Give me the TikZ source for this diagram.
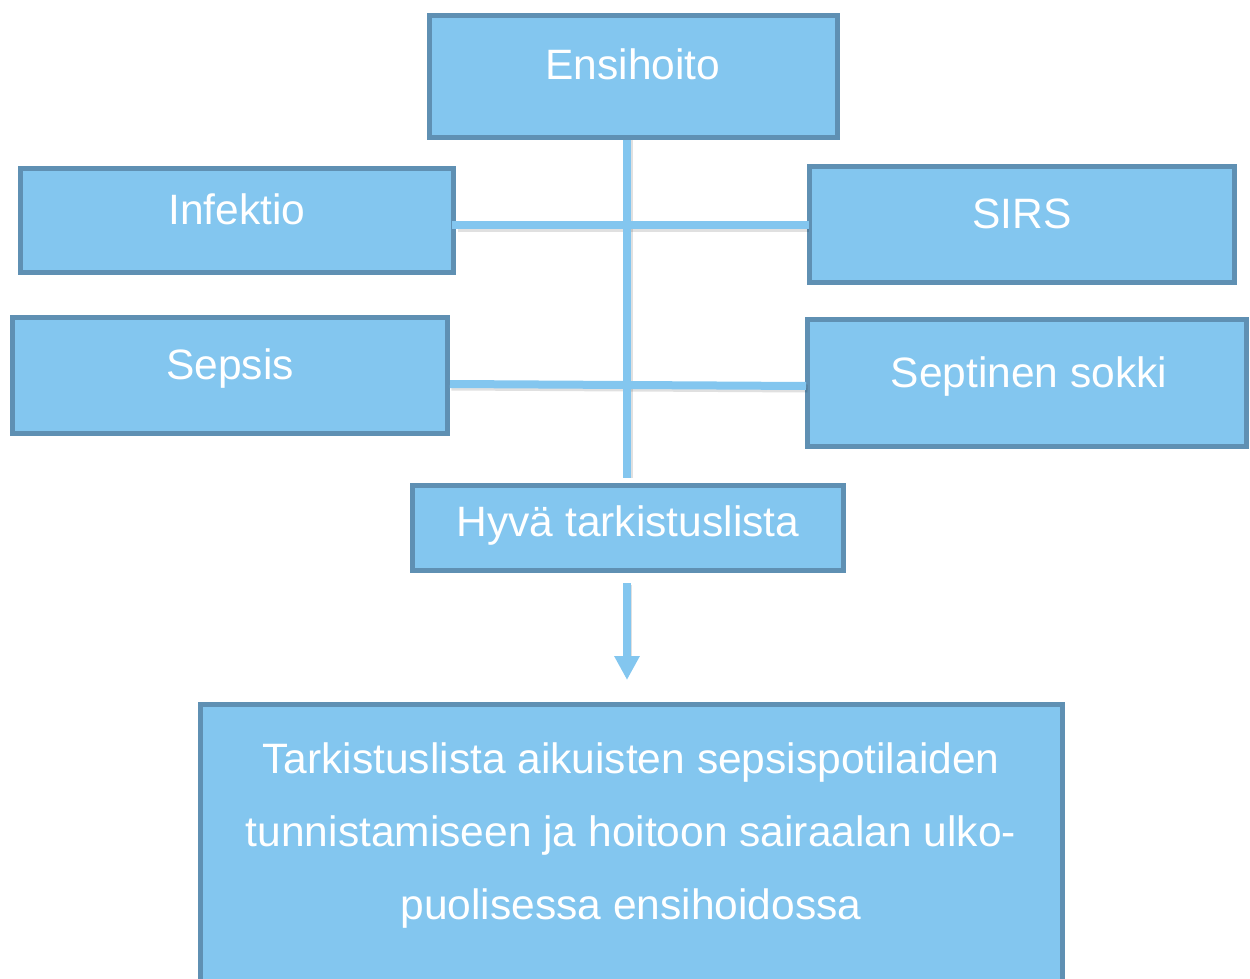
\documentclass[tikz,border=0pt]{standalone}
\usepackage{fontspec}
\setmainfont{Liberation Sans}
\usetikzlibrary{arrows.meta}
\definecolor{boxfill}{HTML}{83C6EF}
\definecolor{boxedge}{HTML}{5F90B3}
\definecolor{linkc}{HTML}{83C6EF}
\begin{document}
\begin{tikzpicture}[x=1pt,y=1pt,
  box/.style={draw=boxedge, fill=boxfill, line width=5pt, rectangle, inner sep=0pt},
  lbl/.style={text=white, font=\fontsize{42.5}{73}\selectfont, anchor=base, inner sep=0pt, align=center},
  link/.style={draw=linkc, line width=8pt},
  shade/.style={draw=black, opacity=0.12, line width=8pt}]
\useasboundingbox (0,0) rectangle (1250,-979);
% boxes
\node[box, minimum width=408pt, minimum height=122pt] (ens) at (633.5,-76.5) {};
\node[box, minimum width=433pt, minimum height=104pt] (inf) at (237,-220.5) {};
\node[box, minimum width=425pt, minimum height=116pt] (sirs) at (1022,-224.5) {};
\node[box, minimum width=435pt, minimum height=116pt] (sep) at (230,-375.5) {};
\node[box, minimum width=439pt, minimum height=127pt] (sok) at (1027,-383) {};
\node[box, minimum width=431pt, minimum height=85pt] (hyv) at (628,-528) {};
\node[box, minimum width=862pt, minimum height=293pt] (tar) at (631.5,-851) {};
% labels
\node[lbl] (tens) at (633,-80) {Ensihoito};
\node[lbl] (tinf) at (237,-224) {Infektio};
\node[lbl] (tsirs) at (1022,-228) {SIRS};
\node[lbl] (tsep) at (230,-379) {Sepsis};
\node[lbl] (tsok) at (1029,-387) {Septinen sokki};
\node[lbl] (thyv) at (628,-536) {Hyvä tarkistuslista};
\node[lbl, anchor=north] (ttar) at (631,-742) {Tarkistuslista aikuisten sepsispotilaiden\\tunnistamiseen ja hoitoon sairaalan ulko-\\puolisessa ensihoidossa};
% junction coordinates
\coordinate (vtop) at (627,-140);
\coordinate (vbot) at (627,-478);
\coordinate (j1) at (627,-225);
\coordinate (j2l) at (450,-384);
\coordinate (j2r) at (806,-386);
\coordinate (a1) at (627,-583);
\coordinate (a2) at (627,-680);
% shadows
\draw[shade] ([shift={(1.5,-2.5)}]inf.east |- j1) -- ([shift={(1.5,-2.5)}]sirs.west |- j1);
\draw[shade] ([shift={(1.5,-2.5)}]j2l) -- ([shift={(1.5,-2.5)}]j2r);
\draw[shade] ([shift={(2,0)}]vtop) -- ([shift={(2,0)}]vbot);
% connectors
\draw[link] (vtop) -- (vbot);
\draw[link] ([xshift=-4pt]inf.east |- j1) -- ([xshift=2pt]sirs.west |- j1);
\draw[link] (j2l) -- (j2r);
\draw[shade, line width=6pt] ([shift={(1.5,-2)}]a1) -- ([shift={(1.5,-2)}]627,-660);
\draw[link, -{Triangle[width=24pt,length=24pt]}] (a1) -- (a2);
\end{tikzpicture}
\end{document}
